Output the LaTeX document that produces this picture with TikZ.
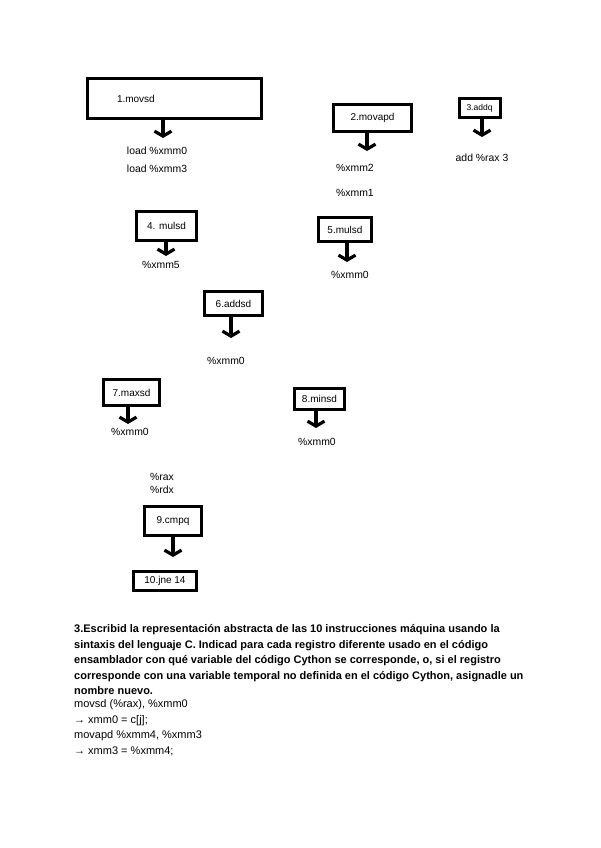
\documentclass[tikz,border=0pt]{standalone}
\usepackage{fontspec}
\setmainfont{Liberation Sans}
\usetikzlibrary{arrows.meta}

\tikzset{
    instr/.style={draw, line width=3pt, inner sep=0pt, font=\fontsize{10}{12}\selectfont},
    reg/.style={inner sep=0pt, font=\fontsize{10.4}{12}\selectfont},
    flow/.style={line width=3.2pt, -{Straight Barb[length=5pt,width=17pt]}}
}

\begin{document}
\begin{tikzpicture}[x=1pt, y=-1pt]
    \useasboundingbox (0,0) rectangle (600,848);

    % The first box is wide, its text sits to the left
    \node[instr, text width=115pt, inner xsep=29.5pt, minimum height=40pt, align=left] (b1) at (174.5,98.5) {1.movsd};

    % The other instruction boxes
    \foreach \i/\x/\y/\w/\h/\t in {2/372.5/118/78/27/2.movapd, 3/479.5/108.5/41/19/\fontsize{8.5}{10}\selectfont 3.addq,
        4/166.5/226/60/29/4. mulsd, 5/345/229.5/53/24/5.mulsd, 6/233.5/303.5/58/24/6.addsd,
        7/131.5/392.5/56/26/7.maxsd, 8/319.5/399/50/21/8.minsd, 9/173/521/57/29/9.cmpq,
        10/165/581/63/19/10.jne 14} {
        \node[instr, minimum width=\w pt, minimum height=\h pt] (b\i) at (\x,\y) {\t};
    }

    % Tips of the arrows under the boxes
    \foreach \i/\x/\y in {1/163/138, 2/367/151, 3/482/137, 4/166/256, 5/347/262,
        6/231/338, 7/128/424, 8/316/428, 9/173/557} {
        \coordinate (a\i) at (\x,\y);
        \draw[flow] (b\i.south -| a\i) -- (a\i);
    }

    % Registers written next to the arrows
    \foreach \n/\x/\y/\t in {r1a/157/151/load \%xmm0, r1b/157/169/load \%xmm3,
        r2a/355/168/\%xmm2, r2b/355/193/\%xmm1, r3/482/158/add \%rax 3,
        r4/161/265/\%xmm5, r5/350/275/\%xmm0, r6/226/361/\%xmm0,
        r7/130/432/\%xmm0, r8/317/442/\%xmm0} {
        \node[reg] (\n) at (\x,\y) {\t};
    }
    \node[reg, anchor=west] (r9a) at (150,477) {\%rax};
    \node[reg, anchor=west] (r9b) at (150,490) {\%rdx};

    % Statement and answer below
    \node[anchor=north west, inner sep=0pt, align=left, font=\fontsize{11}{15.5}\selectfont\bfseries] (task) at (74,624.5)
        {3.Escribid la representación abstracta de las 10 instrucciones máquina usando la\\
         sintaxis del lenguaje C. Indicad para cada registro diferente usado en el código\\
         ensamblador con qué variable del código Cython se corresponde, o, si el registro\\
         corresponde con una variable temporal no definida en el código Cython, asignadle un\\
         nombre nuevo.};
    \node[anchor=north west, inner sep=0pt, align=left, font=\fontsize{11}{15.6}\selectfont] (answer) at (74,699.5)
        {movsd (\%rax), \%xmm0\\
         → xmm0 = c[j];\\
         movapd \%xmm4, \%xmm3\\
         → xmm3 = \%xmm4;};
\end{tikzpicture}
\end{document}
